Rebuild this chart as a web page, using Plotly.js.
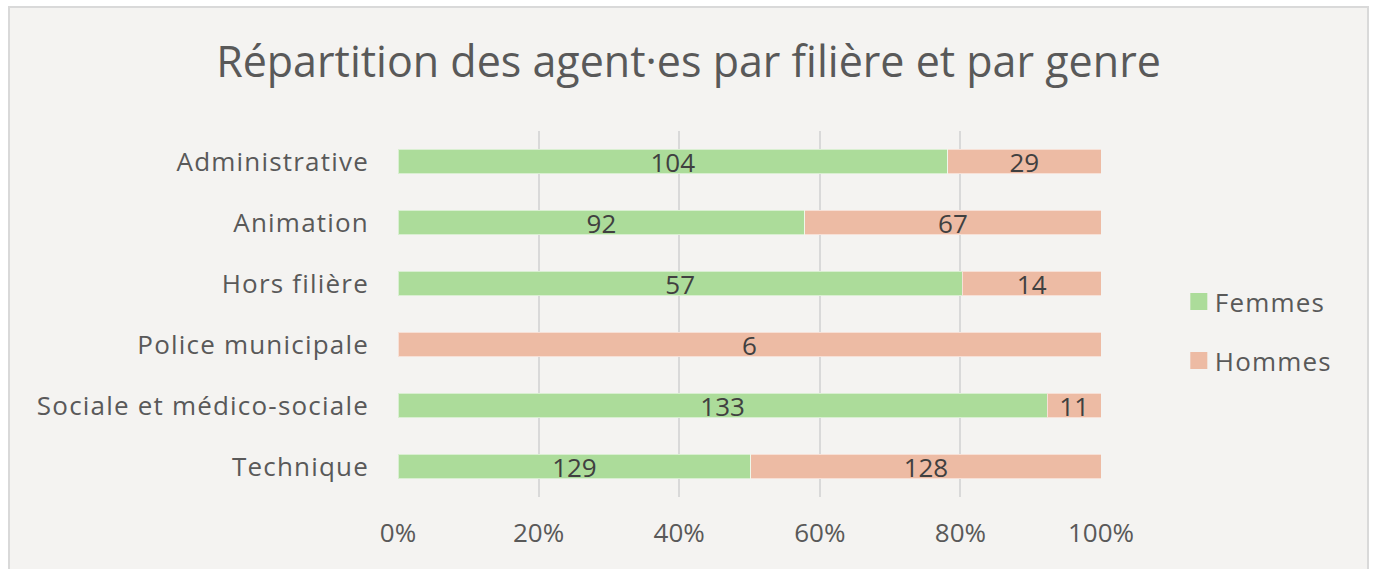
<!DOCTYPE html>
<html>
<head>
<meta charset="utf-8">
<script src="https://cdn.plot.ly/plotly-3.0.1.min.js"></script>
<style>
  html, body { margin: 0; padding: 0; background: #ffffff; width: 1375px; height: 569px; overflow: hidden; }
  #wrap { position: absolute; left: 8px; top: 6px; width: 1361px; height: 620px; box-sizing: border-box;
          border: 2px solid #d9d9d9; background: #f4f3f1; }
  #chart { position: absolute; left: 0; top: 0; width: 1357px; height: 561px; }
  #chart .ytick text, #chart .legendtext { letter-spacing: 1.2px; }
</style>
</head>
<body>
<div id="wrap"><div id="chart"></div></div>
<script>
const categories = ["Administrative", "Animation", "Hors filière", "Police municipale", "Sociale et médico-sociale", "Technique"];
const femmes = [104, 92, 57, 0, 133, 129];
const hommes = [29, 67, 14, 6, 11, 128];
const seriesNames = ["Femmes", "Hommes"];
const tickVals = [0, 20, 40, 60, 80, 100];
const tickLabels = ["0%", "20%", "40%", "60%", "80%", "100%"];

const FONT = "Open Sans, Liberation Sans, sans-serif";
const colors = ["#acdc9a", "#edbba4"];

function mk(name, vals, color, group) {
  return {
    type: "bar", orientation: "h", name: name,
    y: categories, x: vals,
    text: vals.map(v => v ? String(v) : ""),
    texttemplate: "%{text}",
    textposition: "inside", insidetextanchor: "middle",
    textangle: 0, constraintext: "none",
    textfont: { family: FONT, size: 26, color: "#404040" },
    marker: { color: color, line: { color: "rgba(255,255,255,0.55)", width: 1 } },
    legendgroup: group,
    hoverinfo: "skip"
  };
}

const data = [
  mk(seriesNames[0], femmes, colors[0], "f"),
  mk(seriesNames[1], hommes, colors[1], "h")
];

const layout = {
  width: 1357, height: 561,
  paper_bgcolor: "rgba(0,0,0,0)", plot_bgcolor: "rgba(0,0,0,0)",
  margin: { l: 388, r: 266, t: 123, b: 72, pad: 0 },
  barmode: "stack", barnorm: "percent", bargap: 0.6,
  title: { text: "Répartition des agent·es par filière et par genre",
           font: { family: FONT, size: 43, color: "#595959" },
           x: 0.5, xref: "container", xanchor: "center",
           y: 1 - 54/561, yref: "container", yanchor: "middle" },
  xaxis: { range: [0, 100], tickmode: "array", tickvals: tickVals, ticktext: tickLabels,
           showgrid: true, gridcolor: "#d9d9d9", gridwidth: 2,
           zeroline: false, showline: false, ticks: "",
           ticklabelstandoff: 18,
           tickfont: { family: FONT, size: 26, color: "#595959" }, fixedrange: true },
  yaxis: { autorange: "reversed", type: "category", showgrid: false, zeroline: false,
           showline: false, ticks: "", ticklabelstandoff: 28,
           tickfont: { family: FONT, size: 26, color: "#595959" }, fixedrange: true },
  showlegend: true,
  legend: { x: 1.105, xanchor: "left", y: 0.453, yanchor: "middle",
            traceorder: "grouped", tracegroupgap: 22,
            bgcolor: "rgba(0,0,0,0)",
            font: { family: FONT, size: 26, color: "#595959" } }
};

Plotly.newPlot("chart", data, layout, { displayModeBar: false, staticPlot: true }).then(gd => {
  gd.querySelectorAll(".legendpoints path").forEach(p => {
    p.setAttribute("d", "M12.5,8.5H-4.5V-8.5H12.5Z");
    p.style.strokeWidth = "0px";
  });
});
</script>
</body>
</html>
